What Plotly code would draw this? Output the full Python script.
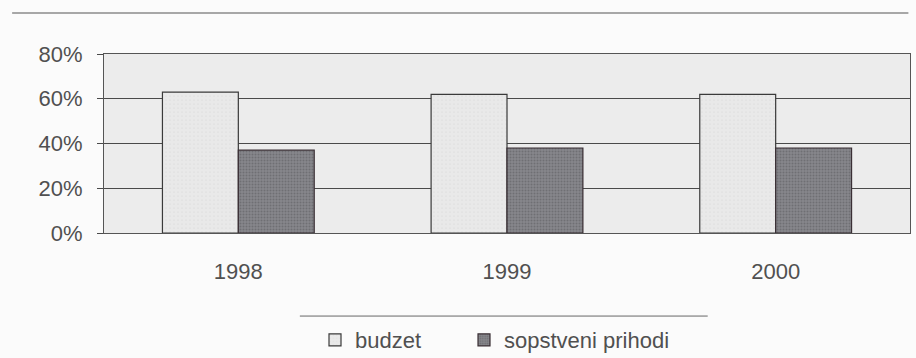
import plotly.graph_objects as go

years = ["1998", "1999", "2000"]
budzet = [63, 62, 62]
sopstveni = [37, 38, 38]
y_ticks = [0, 20, 40, 60, 80]
y_labels = ["0%", "20%", "40%", "60%", "80%"]

fig = go.Figure()
fig.add_trace(go.Bar(
    x=years, y=budzet, name="budzet", legend="legend",
    marker=dict(color="#e9e9e9", line=dict(color="#3a3a3a", width=1.2),
                pattern=dict(shape=".", fgcolor="#d6d6d6", size=4, solidity=0.15)),
))
fig.add_trace(go.Bar(
    x=years, y=sopstveni, name="sopstveni prihodi", legend="legend2",
    marker=dict(color="#86868b", line=dict(color="#3a2f35", width=1.2),
                pattern=dict(shape=".", fgcolor="#58585c", size=3, solidity=0.35)),
))

legend_style = dict(orientation="h", xref="container", yref="container",
                    xanchor="left", y=0.05, yanchor="middle", itemwidth=30,
                    font=dict(size=22, color="#505050"),
                    bgcolor="rgba(0,0,0,0)")

fig.update_layout(
    width=916, height=358,
    margin=dict(l=104, r=6, t=54, b=125, autoexpand=False),
    paper_bgcolor="#fbfbfb",
    plot_bgcolor="#ececec",
    barmode="group", bargap=0.435, bargroupgap=0,
    font=dict(family="Liberation Sans, Arial, sans-serif", size=22, color="#505050"),
    showlegend=True,
    legend=dict(legend_style, x=315 / 916),
    legend2=dict(legend_style, x=464 / 916),
    xaxis=dict(showgrid=False, ticks="", showline=True, linecolor="#555",
               linewidth=1, mirror=True, tickfont=dict(size=22),
               ticklabelstandoff=19),
    yaxis=dict(range=[0, 80], tickvals=y_ticks, ticktext=y_labels,
               showgrid=True, gridcolor="#4a4a4a", gridwidth=1,
               ticks="outside", ticklen=6, tickcolor="#4a4a4a",
               showline=True, linecolor="#555", linewidth=1, mirror=True,
               zeroline=False, ticklabelstandoff=10),
)

# horizontal rules above the chart and above the legend
fig.add_shape(type="line", xref="paper", yref="paper",
              x0=-0.114, x1=0.998, y0=1.229, y1=1.229,
              line=dict(color="#555", width=1.2))
fig.add_shape(type="line", xref="paper", yref="paper",
              x0=0.243, x1=0.749, y0=-0.464, y1=-0.464,
              line=dict(color="#666", width=1))

fig.write_html("out.html")
